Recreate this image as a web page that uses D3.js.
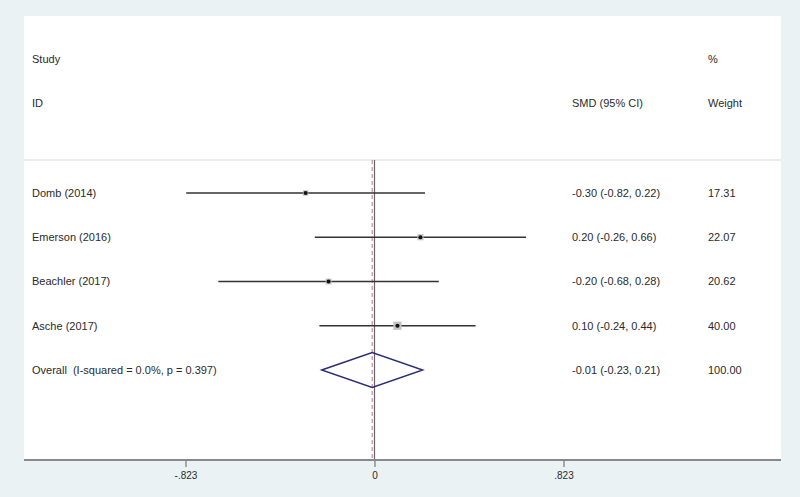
<!DOCTYPE html>
<html>
<head>
<meta charset="utf-8">
<script src="https://cdn.jsdelivr.net/npm/d3@7"></script>
<style>
  html, body { margin: 0; padding: 0; background: #eaf2f4; }
  svg { display: block; }
  text { font-family: "Liberation Sans", Arial, sans-serif; fill: #2a2a2a; }
</style>
</head>
<body>
<svg id="chart" width="800" height="497"></svg>
<script>
// ---- data ----
const studies = ["Domb (2014)", "Emerson (2016)", "Beachler (2017)", "Asche (2017)"];
const smd = [-0.30, 0.20, -0.20, 0.10];
const ciLow = [-0.82, -0.26, -0.68, -0.24];
const ciHigh = [0.22, 0.66, 0.28, 0.44];
const weights = [17.31, 22.07, 20.62, 40.00];
const ciLabels = ["-0.30 (-0.82, 0.22)", "0.20 (-0.26, 0.66)", "-0.20 (-0.68, 0.28)", "0.10 (-0.24, 0.44)"];
const weightLabels = ["17.31", "22.07", "20.62", "40.00"];
const overallLabel = "Overall  (I-squared = 0.0%, p = 0.397)";
const overall = { est: -0.01, lo: -0.23, hi: 0.21 };
const overallCiLabel = "-0.01 (-0.23, 0.21)";
const overallWeightLabel = "100.00";
const tickValues = [-0.823, 0, 0.823];
const tickLabels = ["-.823", "0", ".823"];

// ---- layout ----
const svg = d3.select("#chart");
const panel = { left: 24, top: 16, right: 781, bottom: 460 };
const x = d3.scaleLinear().domain([-0.823, 0.823]).range([185.5, 563.5]);
const rows = studies.concat(["Overall"]);
const y = d3.scalePoint().domain(rows).range([193, 370]);

svg.append("rect")
  .attr("x", panel.left).attr("y", panel.top)
  .attr("width", panel.right - panel.left).attr("height", panel.bottom - panel.top)
  .attr("fill", "#ffffff");

// header
const colStudy = 32, colCI = 572, colW = 708;
const header = svg.append("g").attr("font-size", 11);
header.append("text").attr("x", colStudy).attr("y", 59).attr("dy", "0.35em").text("Study");
header.append("text").attr("x", colStudy).attr("y", 103).attr("dy", "0.35em").text("ID");
header.append("text").attr("x", colCI).attr("y", 103).attr("dy", "0.35em").text("SMD (95% CI)");
header.append("text").attr("x", colW).attr("y", 59).attr("dy", "0.35em").text("%");
header.append("text").attr("x", colW).attr("y", 103).attr("dy", "0.35em").text("Weight");

// separator
svg.append("line")
  .attr("x1", panel.left).attr("x2", panel.right)
  .attr("y1", 160).attr("y2", 160)
  .attr("stroke", "#d9d9d9").attr("stroke-width", 1.2);

// null line
svg.append("line")
  .attr("x1", x(0)).attr("x2", x(0))
  .attr("y1", 160).attr("y2", panel.bottom)
  .attr("stroke", "#666").attr("stroke-width", 1.2);

// overall dashed line
svg.append("line")
  .attr("x1", x(overall.est)).attr("x2", x(overall.est))
  .attr("y1", 160).attr("y2", panel.bottom)
  .attr("stroke", "#c98c98").attr("stroke-width", 1.2)
  .attr("stroke-dasharray", "4,3");

// study rows
const g = svg.append("g");
studies.forEach((s, i) => {
  const yy = y(s);
  g.append("line")
    .attr("x1", x(ciLow[i])).attr("x2", x(ciHigh[i]))
    .attr("y1", yy).attr("y2", yy)
    .attr("stroke", "#333").attr("stroke-width", 1.3);
  const side = 1.3 * Math.sqrt(weights[i]);
  g.append("rect")
    .attr("x", x(smd[i]) - side / 2).attr("y", yy - side / 2)
    .attr("width", side).attr("height", side)
    .attr("fill", "#c4c4c4");
  g.append("circle")
    .attr("cx", x(smd[i])).attr("cy", yy).attr("r", 2.1)
    .attr("fill", "#111");
  g.append("text").attr("x", colStudy).attr("y", yy).attr("dy", "0.35em")
    .attr("font-size", 11).text(s);
  g.append("text").attr("x", colCI).attr("y", yy).attr("dy", "0.35em")
    .attr("font-size", 11).text(ciLabels[i]);
  g.append("text").attr("x", colW).attr("y", yy).attr("dy", "0.35em")
    .attr("font-size", 11).text(weightLabels[i]);
});

// overall diamond
const yo = y("Overall");
const dh = 17.5;
g.append("path")
  .attr("d", `M${x(overall.lo)},${yo} L${x(overall.est)},${yo - dh} L${x(overall.hi)},${yo} L${x(overall.est)},${yo + dh} Z`)
  .attr("fill", "none").attr("stroke", "#2b2b78").attr("stroke-width", 1.4);
g.append("text").attr("x", colStudy).attr("y", yo).attr("dy", "0.35em")
  .attr("font-size", 11).style("white-space", "pre").text(overallLabel);
g.append("text").attr("x", colCI).attr("y", yo).attr("dy", "0.35em")
  .attr("font-size", 11).text(overallCiLabel);
g.append("text").attr("x", colW).attr("y", yo).attr("dy", "0.35em")
  .attr("font-size", 11).text(overallWeightLabel);

// x axis
const axis = d3.axisBottom(x)
  .tickValues(tickValues)
  .tickFormat((d, i) => tickLabels[i])
  .tickSize(7)
  .tickPadding(5);
const ax = svg.append("g").attr("transform", `translate(0,${panel.bottom})`).call(axis);
ax.select(".domain").remove();
ax.selectAll(".tick line").attr("stroke", "#777").attr("stroke-width", 1.2);
ax.selectAll(".tick text").attr("font-size", 10).attr("fill", "#2a2a2a")
  .style("font-family", "'Liberation Sans', Arial, sans-serif");
svg.append("line")
  .attr("x1", panel.left).attr("x2", panel.right)
  .attr("y1", panel.bottom).attr("y2", panel.bottom)
  .attr("stroke", "#888").attr("stroke-width", 2);
</script>
</body>
</html>
